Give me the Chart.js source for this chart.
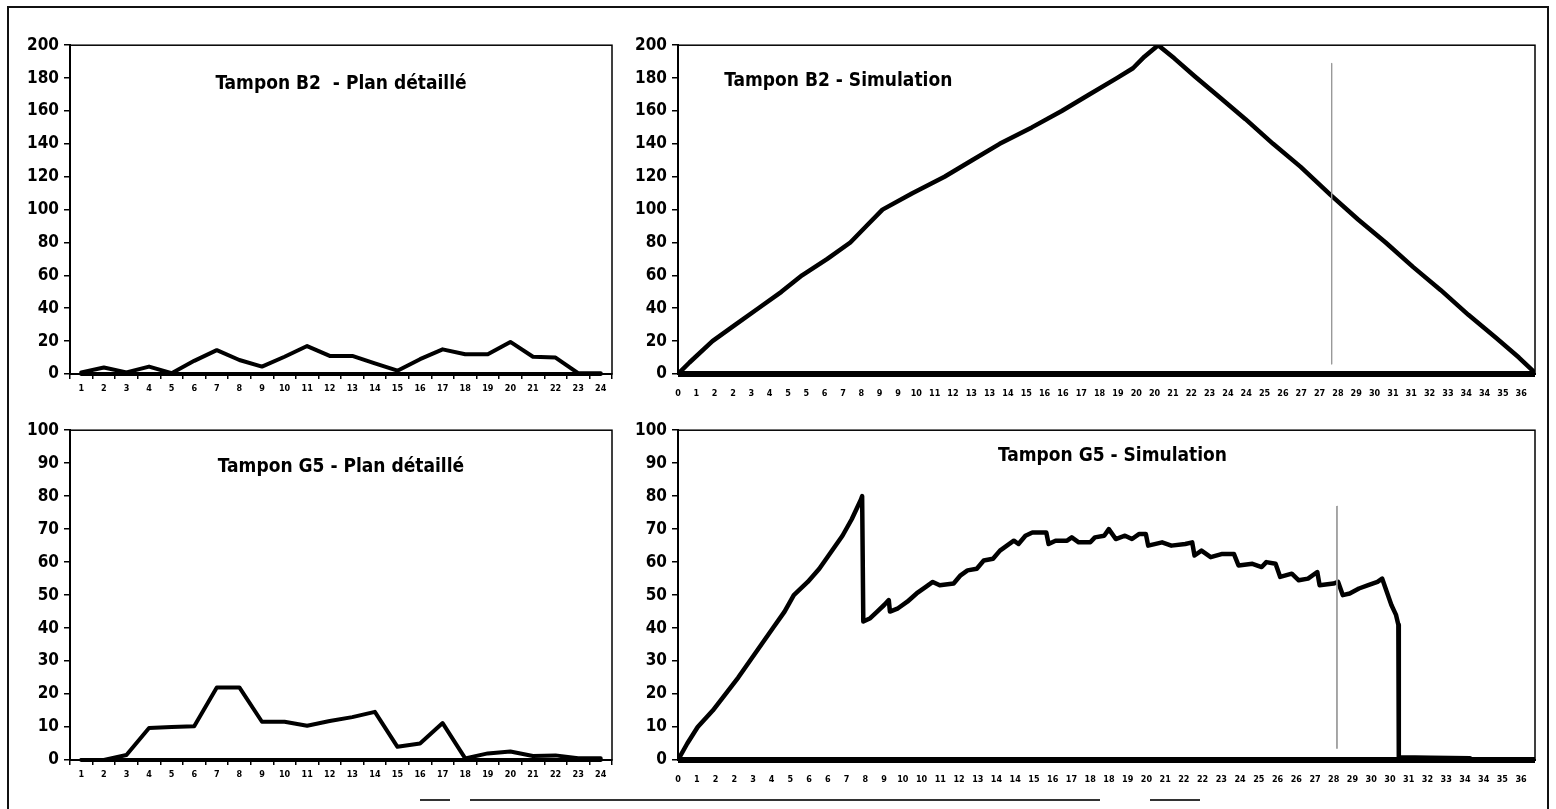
<!DOCTYPE html>
<html>
<head>
<meta charset="utf-8">
<script src="https://cdn.jsdelivr.net/npm/chart.js@4.4.1/dist/chart.umd.min.js"></script>
<style>
  body { margin: 0; background: #fff; }
  #page { position: relative; width: 1556px; height: 809px; overflow: hidden; }
  #frame { position: absolute; left: 7px; top: 6px; width: 1542px; height: 803px;
           border: 2px solid #111; border-bottom: none; box-sizing: border-box; }
  .scrap { position: absolute; top: 799px; height: 2px; background: #333; }
  canvas { position: absolute; }
</style>
</head>
<body>
<div id="page">
  <div id="frame"></div>
  <div class="scrap" style="left:420px;width:30px"></div>
  <div class="scrap" style="left:470px;width:630px"></div>
  <div class="scrap" style="left:1150px;width:50px"></div>
  <canvas id="planB2" width="625" height="372" style="left:0;top:30px"></canvas>
  <canvas id="simB2" width="940" height="372" style="left:610px;top:30px"></canvas>
  <canvas id="planG5" width="625" height="373" style="left:0;top:415px"></canvas>
  <canvas id="simG5" width="940" height="373" style="left:610px;top:415px"></canvas>
</div>
<script>
// ---- data ----
const planLabels = ['1','2','3','4','5','6','7','8','9','10','11','12','13','14','15','16','17','18','19','20','21','22','23','24'];
const planB2Values = [1, 4, 1, 4.5, 0.5, 8, 14.5, 8.5, 4.5, 10.5, 17, 11, 11, 6.5, 2, 9, 15, 12, 12, 19.5, 10.5, 10, 0.5, 0.5];
const planG5Values = [0, 0, 1.5, 9.7, 10, 10.2, 22, 22, 11.6, 11.6, 10.4, 11.8, 13, 14.6, 4, 5, 11.2, 0.5, 2, 2.6, 1.2, 1.4, 0.5, 0.5];
const planZero = [0,0,0,0,0,0,0,0,0,0,0,0,0,0,0,0,0,0,0,0,0,0,0,0];

const simB2TickLabels = ['0','1','2','2','3','4','5','5','6','7','8','9','9','10','11','12','13','13','14','15','16','16','17','18','19','20','20','21','22','23','24','24','25','26','27','27','28','29','30','31','31','32','33','34','34','35','36'];
const simG5TickLabels = ['0','1','2','2','3','4','5','6','6','7','8','9','10','10','11','12','13','14','14','15','16','17','18','18','19','20','21','22','22','23','24','25','26','26','27','28','29','30','30','31','32','33','34','34','35','36'];

const simB2Time  = [0, 0.5, 1.5, 2.5, 3.5, 4.5, 5.4, 6.5, 7.5, 8.2, 8.9, 10.2, 11.6, 12.8, 14.0, 15.4, 16.7, 17.9, 19.1, 19.8, 20.3, 20.9, 21.6, 22.5, 23.6, 24.7, 25.9, 27.1, 28.4, 29.6, 30.8, 32.0, 33.2, 34.4, 35.6, 36.6, 37.2];
const simB2Value = [0, 7, 20, 30, 40, 50, 60, 70, 80, 90, 100, 110, 120, 130, 140, 150, 160, 170, 180, 186, 193, 200, 192, 181, 168, 155, 140, 126, 109, 94, 80, 65, 51, 36, 22, 10, 2];

const simG5Time  = [0, 0.4, 0.85, 1.5, 2.05, 2.6, 3.1, 3.6, 4.1, 4.6,
  5.0, 5.6, 6.1, 6.6, 7.1, 7.5, 7.9, 7.95, 8.0, 8.3,
  8.6, 8.9, 9.1, 9.15, 9.5, 9.9, 10.3, 10.7, 11.0, 11.3,
  11.9, 12.2, 12.5, 12.9, 13.2, 13.6, 13.9, 14.2, 14.5, 14.7,
  15.0, 15.3, 15.9, 16.0, 16.3, 16.8, 17.0, 17.3, 17.8, 18.0,
  18.4, 18.6, 18.9, 19.3, 19.6, 19.9, 20.2, 20.3, 20.9, 21.3,
  21.9, 22.2, 22.3, 22.6, 23.0, 23.5, 24.0, 24.2, 24.8, 25.2,
  25.4, 25.8, 26.0, 26.5, 26.8, 27.2, 27.6, 27.7, 28.3, 28.5,
  28.7, 29.0, 29.4, 29.8, 30.2, 30.4, 30.6, 30.8, 31.0, 31.1,
  31.12, 32.5, 34.2, 34.3, 37.0];
const simG5Value = [0, 5, 10, 15, 20, 25, 30, 35, 40, 45,
  50, 54, 58, 63, 68, 73, 79, 80, 42, 43,
  45, 47, 48.5, 45, 46, 48, 50.5, 52.5, 54, 53,
  53.5, 56, 57.5, 58, 60.5, 61, 63.5, 65, 66.5, 65.5,
  68, 69, 69, 65.5, 66.5, 66.5, 67.5, 66, 66, 67.5,
  68, 70, 67, 68, 67, 68.5, 68.5, 65, 66, 65,
  65.5, 66, 62, 63.5, 61.5, 62.5, 62.5, 59, 59.5, 58.5,
  60, 59.5, 55.5, 56.5, 54.5, 55, 57, 53, 53.5, 54,
  50, 50.5, 52, 53, 54, 55, 51, 47, 44, 41,
  0.8, 0.7, 0.5, 0, 0];

const simB2BaseTime = [0, 37.3];
const simG5BaseTime = [0, 37.0];
const simBaseValue = [0, 0];
const markerTime = [28.45, 28.45];
const markerB2 = [189, 6];
const markerG5 = [77, 3.5];

// ---- styling ----
const NARROW = "'Liberation Sans Narrow', 'Arial Narrow', 'DejaVu Sans Condensed', sans-serif";
const SMALL = "'DejaVu Sans Condensed', 'DejaVu Sans', sans-serif";

const plotFrame = {
  id: 'plotFrame',
  beforeDatasetsDraw(chart) {
    const { ctx, chartArea: a } = chart;
    ctx.save();
    ctx.strokeStyle = '#000';
    ctx.lineWidth = 1.5;
    ctx.strokeRect(a.left, a.top, a.right - a.left, a.bottom - a.top);
    ctx.restore();
  }
};

const plotTitle = {
  id: 'plotTitle',
  afterDatasetsDraw(chart, args, opts) {
    const { ctx, chartArea: a } = chart;
    ctx.save();
    ctx.fillStyle = '#000';
    ctx.font = 'bold 19px ' + NARROW;
    ctx.textAlign = opts.align;
    ctx.textBaseline = 'middle';
    ctx.fillText(opts.text, a.left + opts.pos * (a.right - a.left), a.top + opts.dy);
    ctx.restore();
  }
};

function pairs(xs, ys) {
  return xs.map((x, i) => ({ x: x, y: ys[i] }));
}

function yAxis(max, step) {
  return {
    min: 0,
    max: max,
    ticks: { stepSize: step, color: '#000', padding: 5, font: { family: NARROW, size: 17, weight: 'bold' } },
    grid: { drawOnChartArea: false, tickLength: 6, color: '#000', lineWidth: 1.5 },
    border: { color: '#000', width: 2 },
    afterFit: s => { s.width = 70; }
  };
}

function planXAxis() {
  return {
    type: 'category',
    offset: true,
    ticks: { autoSkip: false, maxRotation: 0, color: '#000', padding: 4, font: { family: SMALL, size: 9, weight: 'bold' } },
    grid: { offset: true, drawOnChartArea: false, tickLength: 5, color: '#000', lineWidth: 1.5 },
    border: { color: '#000', width: 2 },
    afterFit: s => { s.height = 28; }
  };
}

function simXAxis(max, labels, span) {
  return {
    type: 'linear',
    min: 0,
    max: max,
    afterBuildTicks: s => { s.ticks = labels.map((l, i) => ({ value: i * span / (labels.length - 1) })); },
    ticks: { autoSkip: false, maxRotation: 0, color: '#000', padding: 6,
             font: { family: SMALL, size: 9, weight: 'bold' },
             callback: (v, i) => labels[i] },
    grid: { display: false },
    border: { color: '#000', width: 2 },
    afterFit: s => { s.height = 28; }
  };
}

function baseOptions(x, y, title) {
  return {
    responsive: false,
    animation: false,
    events: [],
    layout: { padding: { top: 13, right: 13, left: 0, bottom: 0 } },
    elements: { point: { radius: 0 }, line: { tension: 0, borderJoinStyle: 'round', borderCapStyle: 'round' } },
    scales: { x: x, y: y },
    plugins: { legend: { display: false }, tooltip: { enabled: false }, plotTitle: title }
  };
}

function displayPlan(id, values, max, step, title) {
  new Chart(document.getElementById(id), {
    type: 'line',
    data: {
      labels: planLabels,
      datasets: [
        { data: planZero, borderColor: '#000', borderWidth: 4, clip: 4 },
        { data: values, borderColor: '#000', borderWidth: 4 }
      ]
    },
    options: baseOptions(planXAxis(), yAxis(max, step), title),
    plugins: [plotFrame, plotTitle]
  });
}

function displaySim(id, time, value, baseTime, marker, labels, xMax, span, yMax, yStep, title) {
  const opts = baseOptions(simXAxis(xMax, labels, span), yAxis(yMax, yStep), title);
  opts.layout.padding.right = 15;
  opts.scales.y.afterFit = s => { s.width = 68; };
  new Chart(document.getElementById(id), {
    type: 'line',
    data: {
      datasets: [
        { data: pairs(markerTime, marker), borderColor: '#9a9a9a', borderWidth: 1 },
        { data: pairs(baseTime, simBaseValue), borderColor: '#000', borderWidth: 6, borderCapStyle: 'butt', clip: 6 },
        { data: pairs(time, value), borderColor: '#000', borderWidth: 4.5 }
      ]
    },
    options: opts,
    plugins: [plotFrame, plotTitle]
  });
}

displayPlan('planB2', planB2Values, 200, 20, { text: 'Tampon B2  - Plan détaillé', align: 'center', pos: 0.5, dy: 39 });
displayPlan('planG5', planG5Values, 100, 10, { text: 'Tampon G5 - Plan détaillé', align: 'center', pos: 0.5, dy: 37 });
displaySim('simB2', simB2Time, simB2Value, simB2BaseTime, markerB2, simB2TickLabels, 37.3, 36.7, 200, 20,
           { text: 'Tampon B2 - Simulation', align: 'left', pos: 0.054, dy: 36 });
displaySim('simG5', simG5Time, simG5Value, simG5BaseTime, markerG5, simG5TickLabels, 37.0, 36.4, 100, 10,
           { text: 'Tampon G5 - Simulation', align: 'center', pos: 0.507, dy: 26 });
</script>
</body>
</html>
